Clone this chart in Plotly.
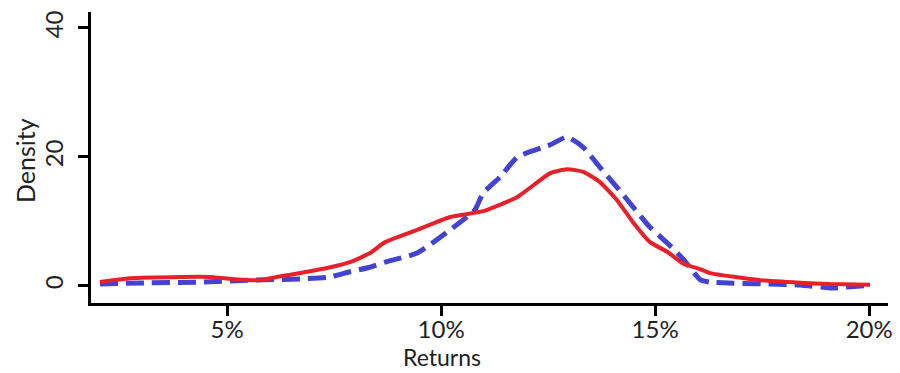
import plotly.graph_objects as go

# Returns (%) and densities
red_x = [2.03, 2.73, 3.90, 4.60, 5.07, 5.77, 6.24, 6.71, 7.41, 7.87, 8.34, 8.69, 9.44,
         10.21, 10.98, 11.78, 12.55, 12.94, 13.32, 13.71, 14.11, 14.49, 14.88, 15.28,
         15.65, 16.05, 16.28, 17.45, 18.39, 19.09, 20.02]
red_y = [0.6, 1.2, 1.4, 1.4, 1.1, 0.9, 1.5, 2.0, 2.9, 3.7, 5.1, 6.8, 8.7,
         10.7, 11.6, 13.8, 17.5, 18.1, 17.7, 16.1, 13.3, 9.8, 6.8, 5.3,
         3.5, 2.6, 2.0, 0.9, 0.5, 0.3, 0.2]

blue_x = [2.03, 3.20, 4.37, 5.54, 6.71, 7.41, 7.87, 8.34, 8.69, 9.44, 10.21, 10.79,
          10.98, 11.38, 11.78, 12.55, 12.94, 13.32, 13.71, 14.11, 14.49, 14.88, 15.28,
          15.65, 16.05, 16.28, 18.39, 19.09, 20.02]
blue_y = [0.3, 0.5, 0.6, 0.9, 1.1, 1.4, 2.2, 2.9, 3.7, 5.1, 8.7, 11.8,
          14.4, 16.9, 20.0, 21.9, 23.1, 21.5, 18.4, 15.3, 12.2, 9.1, 6.7,
          4.2, 1.0, 0.6, 0.15, -0.3, 0.1]

x_tickvals = [5, 10, 15, 20]
x_ticktext = ["5%", "10%", "15%", "20%"]
y_tickvals = [0, 20, 40]
x_title = "Returns"
y_title = "Density"

fig = go.Figure()
fig.add_trace(go.Scatter(x=blue_x, y=blue_y, mode="lines",
                         line=dict(color="#4343d2", width=5, dash="18px,8px", shape="spline", smoothing=0.5),
                         showlegend=False))
fig.add_trace(go.Scatter(x=red_x, y=red_y, mode="lines",
                         line=dict(color="#e8202a", width=4, shape="spline", smoothing=0.5),
                         showlegend=False))

font = dict(family="Lato, Open Sans, sans-serif", size=24, color="#222222")
title_font = dict(family="Lato, Open Sans, sans-serif", size=23, color="#222222")
fig.update_layout(
    width=900, height=373,
    margin=dict(l=91, r=12, t=12, b=70),
    paper_bgcolor="white", plot_bgcolor="white",
    font=font,
    xaxis=dict(range=[1.82, 20.44], tickvals=x_tickvals, ticktext=x_ticktext,
               showgrid=False, zeroline=False, showline=True, linecolor="black", linewidth=3,
               ticks="outside", ticklen=10, tickwidth=3, tickcolor="black",
               ticklabelstandoff=-7, automargin=False),
    yaxis=dict(range=[-2.64, 42.48], tickvals=y_tickvals, tickangle=-90,
               showgrid=False, zeroline=False, showline=True, linecolor="black", linewidth=3,
               ticks="outside", ticklen=10, tickwidth=3, tickcolor="black",
               ticklabelstandoff=5, automargin=False),
    annotations=[
        dict(text=x_title, xref="paper", yref="paper", x=(442 - 91) / 797, y=-(357 - 303) / 291,
             xanchor="center", yanchor="middle", showarrow=False, font=title_font),
        dict(text=y_title, xref="paper", yref="paper", x=(25 - 91) / 797, y=(303 - 161) / 291,
             xanchor="center", yanchor="middle", textangle=-90, showarrow=False,
             font=dict(family="Lato, Open Sans, sans-serif", size=25, color="#222222")),
    ],
)
fig.write_html("out.html")
